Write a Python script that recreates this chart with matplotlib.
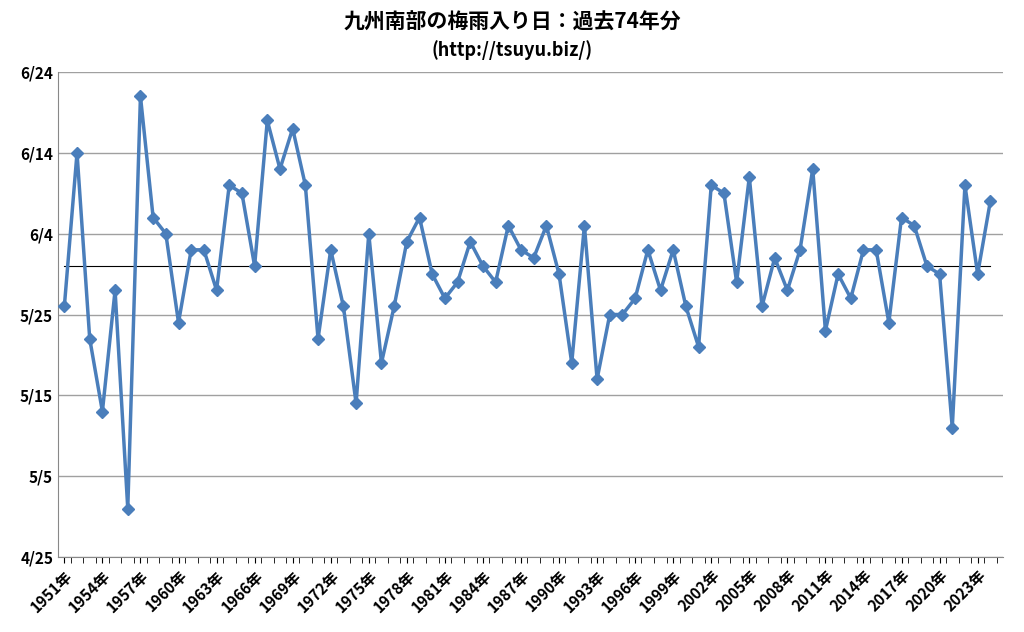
import datetime as dt

import matplotlib
matplotlib.use("Agg")
import matplotlib.pyplot as plt
import numpy as np

plt.rcParams["font.family"] = "Noto Sans CJK JP"

years = list(range(1951, 2025))
dates = [
    "5/26", "6/14", "5/22", "5/13", "5/28", "5/1", "6/21", "6/6", "6/4", "5/24",
    "6/2", "6/2", "5/28", "6/10", "6/9", "5/31", "6/18", "6/12", "6/17", "6/10",
    "5/22", "6/2", "5/26", "5/14", "6/4", "5/19", "5/26", "6/3", "6/6", "5/30",
    "5/27", "5/29", "6/3", "5/31", "5/29", "6/5", "6/2", "6/1", "6/5", "5/30",
    "5/19", "6/5", "5/17", "5/25", "5/25", "5/27", "6/2", "5/28", "6/2", "5/26",
    "5/21", "6/10", "6/9", "5/29", "6/11", "5/26", "6/1", "5/28", "6/2", "6/12",
    "5/23", "5/30", "5/27", "6/2", "6/2", "5/24", "6/6", "6/5", "5/31", "5/30",
    "5/11", "6/10", "5/30", "6/8",
]
tick_dates = ["4/25", "5/5", "5/15", "5/25", "6/4", "6/14", "6/24"]
BASE = dt.date(2000, 4, 25)


def to_day(s):
    m, d = map(int, s.split("/"))
    return (dt.date(2000, m, d) - BASE).days


values = np.array([to_day(s) for s in dates])
x = np.arange(len(years))

fig = plt.figure(figsize=(10.24, 6.32), dpi=100)
ax = fig.add_axes([58 / 1024, 1 - 557 / 632, 945 / 1024, 485 / 632])
ax.plot(x, values, color="#4a7ebb", lw=2.5, marker="D", ms=6, zorder=3)
ax.plot([x[0], x[-1]], [values.mean()] * 2, color="black", lw=0.8, zorder=2)

ax.set_xlim(-0.5, len(years))
ax.set_ylim(0, 60)
ax.set_yticks([to_day(s) for s in tick_dates])
ax.set_yticklabels(tick_dates, fontsize=11, fontweight="bold")
ax.yaxis.grid(True, color="#a0a0a0", lw=1)
ax.set_axisbelow(True)
ax.set_xticks(x[::3])
ax.set_xticklabels([f"{y}年" for y in years[::3]], rotation=45, ha="right",
                   rotation_mode="anchor", fontsize=11, fontweight="bold")
ax.set_xticks(x + 0.5, minor=True)
ax.tick_params(axis="x", which="minor", length=4)
ax.tick_params(axis="x", which="major", length=4)
ax.tick_params(axis="y", length=0)
for s in ("top", "right"):
    ax.spines[s].set_visible(False)
ax.spines["left"].set_color("#888888")
ax.spines["bottom"].set_color("#888888")

fig.text(0.5, 1 - 22 / 632, "九州南部の梅雨入り日：過去74年分", ha="center", va="center",
         fontsize=15, fontweight="bold")
fig.text(0.5, 1 - 50 / 632, "(http://tsuyu.biz/)", ha="center", va="center",
         fontsize=13, fontweight="bold")

fig.savefig("out.png", dpi=100)
